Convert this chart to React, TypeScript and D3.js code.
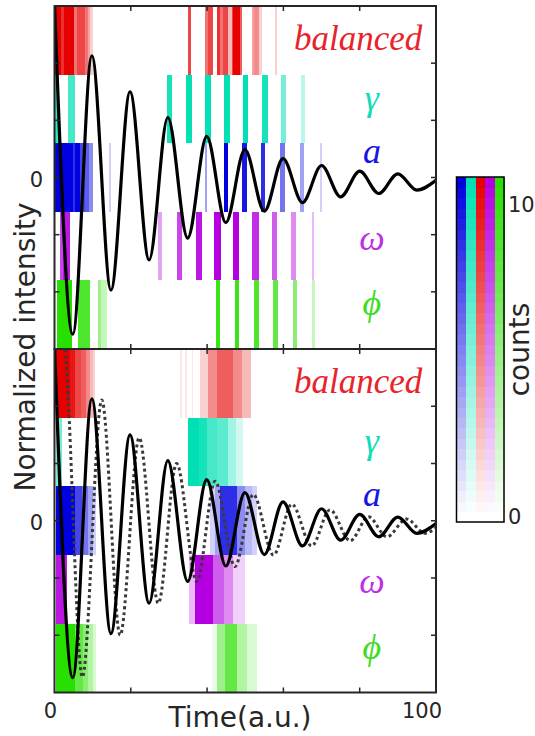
import React from 'react';
import * as d3 from 'd3';

// ---------- data ----------
const xTicks = [0, 20, 40, 60, 80, 100];
const yTicks = [-2, -1, 0, 1, 2];
const rowKeys = ['balanced', 'gamma', 'a', 'omega', 'phi'];
const rowLabels = ['balanced', 'γ', 'a', 'ω', 'ϕ'];
const rowColors = ['#e60000', '#00e0b4', '#0000e0', '#b400e0', '#28e000'];
const labelColors = ['#e8232b', '#14dcb4', '#1414e6', '#bf2fe6', '#3cdc1e'];
const colorbarOrder = ['a', 'gamma', 'balanced', 'omega', 'phi'];
const countMax = 11;
const colorbarTicks = [0, 10];

// damped oscillation, extrema [time, value]
const solidCurve: [number, number][] = [
  [0, 3.05], [4.8, -2.74], [9.8, 2.13], [14.8, -1.97], [19.8, 1.5], [24.8, -1.44],
  [29.7, 1.05], [34.9, -1.06], [39.9, 0.72], [44.9, -0.79], [49.9, 0.49], [55, -0.59],
  [59.9, 0.33], [65, -0.44], [70, 0.21], [75, -0.34], [80, 0.11], [85, -0.28],
  [90, 0.065], [95, -0.22], [100, -0.05],
];
const dottedCurve: [number, number][] = [
  [0, 2.95], [2.3, 3.15], [7.3, -2.73], [12.4, 2.11], [17.2, -2.0], [22.2, 1.45],
  [27.2, -1.44], [32, 1.0], [37.3, -1.06], [42.1, 0.69], [47.3, -0.8], [52.1, 0.46],
  [57.4, -0.6], [62.2, 0.29], [67.4, -0.44], [72.2, 0.19], [77.5, -0.35], [82.3, 0.07],
  [87.1, -0.28], [92.3, 0.03], [97.1, -0.22], [100, -0.12],
];

// histogram stripes per row: [tStart, tEnd, count]
const topBalanced: [number, number, number][] = [
  [0, 1.8, 11], [1.8, 2.6, 9], [2.6, 5.2, 11], [5.2, 5.9, 6], [5.9, 8.0, 8], [8.0, 8.8, 6],
  [8.8, 9.4, 4], [9.4, 10, 2],
  [35.1, 35.9, 8], [39.4, 40.3, 6], [40.3, 41.6, 8], [42.6, 43.4, 9], [43.4, 44.2, 6],
  [44.2, 45.6, 8], [45.6, 46.4, 3], [46.4, 46.9, 8], [46.9, 48.5, 11], [48.5, 49.1, 7],
  [51.7, 52.3, 4], [52.3, 53.5, 5], [53.5, 54.3, 2], [57.8, 58.2, 2],
];
const topGamma: [number, number, number][] = [
  [0, 1.2, 9], [3.6, 5.4, 8], [29.5, 30.7, 10], [34.6, 36.0, 11], [39.5, 40.9, 11],
  [44.4, 45.9, 11], [49.4, 50.8, 11], [54.3, 55.9, 10], [59.4, 60.8, 6], [64.6, 65.6, 3],
];
const topA: [number, number, number][] = [
  [0, 4.8, 11], [4.8, 5.4, 9], [5.4, 6.7, 11], [6.7, 7.9, 8], [7.9, 9.0, 7], [9.0, 10.2, 5],
  [14.3, 14.8, 2],
  [39.4, 40.0, 4], [44.3, 45.6, 11], [49.1, 50.5, 10], [54.2, 55.3, 9], [59.2, 60.3, 6],
  [64.3, 65.4, 4], [69.6, 70.2, 2],
];
const topOmega: [number, number, number][] = [
  [1.4, 2.2, 8], [2.2, 4.1, 10], [27.2, 28.1, 4], [32.0, 33.3, 8], [37.0, 38.6, 10],
  [41.9, 43.6, 11], [46.9, 48.4, 11], [51.8, 53.6, 9], [56.9, 58.4, 7], [62.0, 63.3, 5],
  [67.4, 68.0, 3],
];
const topPhi: [number, number, number][] = [
  [0.6, 4.5, 11], [6.2, 9.3, 9], [11.5, 12.2, 5], [12.2, 13.7, 3],
  [42.3, 43.4, 10], [47.3, 48.4, 10], [52.3, 53.5, 9], [57.3, 58.5, 8], [62.4, 63.5, 6],
  [67.4, 68.3, 3],
];
const botBalanced: [number, number, number][] = [
  [0.4, 4.0, 11], [4.0, 5.5, 10], [5.5, 7.0, 8], [7.0, 8.3, 7], [8.3, 9.2, 5], [9.2, 10.0, 3],
  [10.0, 10.6, 2],
  [32.9, 33.3, 1], [34.2, 34.7, 1], [36.0, 36.4, 1], [38.1, 40.3, 2], [40.3, 42.5, 5],
  [42.5, 46.9, 7], [46.9, 49.1, 5], [49.1, 51.4, 3],
];
const botGamma: [number, number, number][] = [
  [0.4, 1.9, 6], [35.1, 38.0, 11], [38.0, 39.9, 10], [39.9, 42.5, 8], [42.5, 45.6, 7],
  [45.6, 47.5, 4], [47.5, 49.5, 2],
];
const botA: [number, number, number][] = [
  [0.4, 5.4, 11], [5.4, 7.2, 8], [7.2, 8.9, 6], [8.9, 10.0, 4], [10.0, 11.0, 2],
  [40.8, 42.2, 2], [42.2, 43.4, 4], [43.4, 47.8, 9], [47.8, 50.0, 5], [50.0, 51.8, 3],
  [51.8, 53.2, 2],
];
const botOmega: [number, number, number][] = [
  [0.3, 3.4, 10], [35.3, 36.8, 3], [36.8, 41.6, 11], [41.6, 44.5, 7], [44.5, 46.9, 5],
  [46.9, 49.9, 2],
];
const botPhi: [number, number, number][] = [
  [0.4, 5.4, 11], [5.4, 7.5, 8], [7.5, 8.9, 6], [8.9, 10.0, 4], [10.0, 11.0, 2],
  [41.2, 42.5, 1], [42.5, 44.7, 5], [44.7, 47.8, 8], [47.8, 50.5, 4], [50.5, 53.2, 2],
];

const topStripes = [topBalanced, topGamma, topA, topOmega, topPhi];
const botStripes = [botBalanced, botGamma, botA, botOmega, botPhi];

// ---------- layout ----------
const W = 535;
const H = 736;
const left = 54.5;
const right = 436;
const panels = [
  { top: 6, bottom: 349, stripes: topStripes, dotted: false },
  { top: 349, bottom: 692.5, stripes: botStripes, dotted: true },
];
const axisColor = '#262626';
const sans = '"DejaVu Sans", Verdana, sans-serif';
const serif = '"Liberation Serif", "DejaVu Serif", serif';
const labelBaselineOffsets = [44, 35, 20, 38, 35];

const x = d3.scaleLinear().domain([0, 100]).range([left, right]);

function Panel({ p, idx }: { p: typeof panels[0]; idx: number }) {
  const y = d3.scaleLinear().domain([-3, 3]).range([p.bottom, p.top]);
  const band = d3.scaleBand<string>().domain(rowKeys).range([p.top, p.bottom]).padding(0);
  const line = d3
    .line<[number, number]>()
    .x((d) => x(d[0]))
    .y((d) => y(d[1]))
    .curve(d3.curveMonotoneX);
  const clipId = `clip${idx}`;
  return (
    <g>
      <defs>
        <clipPath id={clipId}>
          <rect x={left} y={p.top} width={right - left} height={p.bottom - p.top} />
        </clipPath>
      </defs>
      <g shapeRendering="crispEdges">
        {p.stripes.map((rowData, ri) => {
          const col = d3.interpolateRgb('#ffffff', rowColors[ri]);
          return rowData.map((s, si) => (
            <rect
              key={`${ri}-${si}`}
              x={x(s[0])}
              width={Math.max(0.8, x(s[1]) - x(s[0]))}
              y={band(rowKeys[ri])}
              height={band.bandwidth()}
              fill={col(s[2] / countMax)}
            />
          ));
        })}
      </g>
      <g clipPath={`url(#${clipId})`}>
        {p.dotted && (
          <path
            d={line(dottedCurve) || ''}
            fill="none"
            stroke="#3a3a3a"
            strokeWidth={3}
            strokeDasharray="3,3"
          />
        )}
        <path d={line(solidCurve) || ''} fill="none" stroke="#000" strokeWidth={3.2} />
      </g>
      {/* labels */}
      {rowLabels.map((lab, ri) => (
        <text
          key={lab}
          x={ri === 0 ? x(79.6) : x(83.2)}
          y={(band(rowKeys[ri]) || 0) + labelBaselineOffsets[ri]}
          textAnchor="middle"
          fontFamily={serif}
          fontStyle="italic"
          fontSize={ri === 0 ? 35 : 36}
          fill={labelColors[ri]}
        >
          {lab}
        </text>
      ))}
      {/* box and ticks */}
      <rect
        x={left}
        y={p.top}
        width={right - left}
        height={p.bottom - p.top}
        fill="none"
        stroke={axisColor}
        strokeWidth={2}
      />
      {xTicks.slice(1, -1).map((t) => (
        <g key={t}>
          <line x1={x(t)} x2={x(t)} y1={p.bottom} y2={p.bottom - 5} stroke={axisColor} strokeWidth={1.5} />
          <line x1={x(t)} x2={x(t)} y1={p.top} y2={p.top + 5} stroke={axisColor} strokeWidth={1.5} />
        </g>
      ))}
      {yTicks.map((t) => (
        <g key={t}>
          <line x1={left} x2={left + 5} y1={y(t)} y2={y(t)} stroke={axisColor} strokeWidth={1.5} />
          <line x1={right} x2={right - 5} y1={y(t)} y2={y(t)} stroke={axisColor} strokeWidth={1.5} />
        </g>
      ))}
      <text
        x={left - 18}
        y={y(0) + 3}
        textAnchor="middle"
        dominantBaseline="middle"
        fontFamily={sans}
        fontSize={21}
        fill={axisColor}
      >
        0
      </text>
    </g>
  );
}

function Colorbar() {
  const cbLeft = 456.5;
  const cbRight = 504;
  const cbTop = 177;
  const cbBottom = 522;
  const cy = d3.scaleLinear().domain([0, countMax]).range([cbBottom, cbTop]);
  const cx = d3.scaleBand<string>().domain(colorbarOrder).range([cbLeft, cbRight]);
  const nLevels = 33;
  const levels = d3.range(nLevels);
  return (
    <g>
      <g shapeRendering="crispEdges">
        {colorbarOrder.map((k) => {
          const col = d3.interpolateRgb('#ffffff', rowColors[rowKeys.indexOf(k)]);
          return levels.map((lv) => (
            <rect
              key={k + lv}
              x={cx(k)}
              width={cx.bandwidth() + 0.5}
              y={cy(((lv + 1) * countMax) / nLevels)}
              height={cy((lv * countMax) / nLevels) - cy(((lv + 1) * countMax) / nLevels) + 0.5}
              fill={col(lv / (nLevels - 1))}
            />
          ));
        })}
      </g>
      <rect
        x={cbLeft}
        y={cbTop}
        width={cbRight - cbLeft}
        height={cbBottom - cbTop}
        fill="none"
        stroke="#000"
        strokeWidth={1.5}
      />
      {colorbarTicks.map((t) => (
        <text
          key={t}
          x={cbRight + 4}
          y={cy(t) - (t === 0 ? 4 : 2)}
          dominantBaseline="middle"
          fontFamily={sans}
          fontSize={21}
          fill={axisColor}
        >
          {t}
        </text>
      ))}
      <text
        transform={`translate(529,${(cbTop + cbBottom) / 2}) rotate(-90)`}
        textAnchor="middle"
        fontFamily={sans}
        fontSize={28}
        fill={axisColor}
      >
        counts
      </text>
    </g>
  );
}

export default function App() {
  return (
    <svg
      width={W}
      height={H}
      style={{ position: 'absolute', left: 0, top: 0, background: '#fff' }}
    >
      <rect width={W} height={H} fill="#fff" />
      {panels.map((p, i) => (
        <Panel key={i} p={p} idx={i} />
      ))}
      <text
        x={x(0) - 4}
        y={712}
        textAnchor="middle"
        dominantBaseline="middle"
        fontFamily={sans}
        fontSize={21}
        fill={axisColor}
      >
        {xTicks[0]}
      </text>
      <text
        x={x(100) - 14}
        y={712}
        textAnchor="middle"
        dominantBaseline="middle"
        fontFamily={sans}
        fontSize={21}
        fill={axisColor}
      >
        {xTicks[xTicks.length - 1]}
      </text>
      <text x={240} y={727} textAnchor="middle" fontFamily={sans} fontSize={28} fill={axisColor}>
        Time(a.u.)
      </text>
      <text
        transform={`translate(35,347) rotate(-90)`}
        textAnchor="middle"
        fontFamily={sans}
        fontSize={28}
        fill={axisColor}
      >
        Normalized intensity
      </text>
      <Colorbar />
    </svg>
  );
}
